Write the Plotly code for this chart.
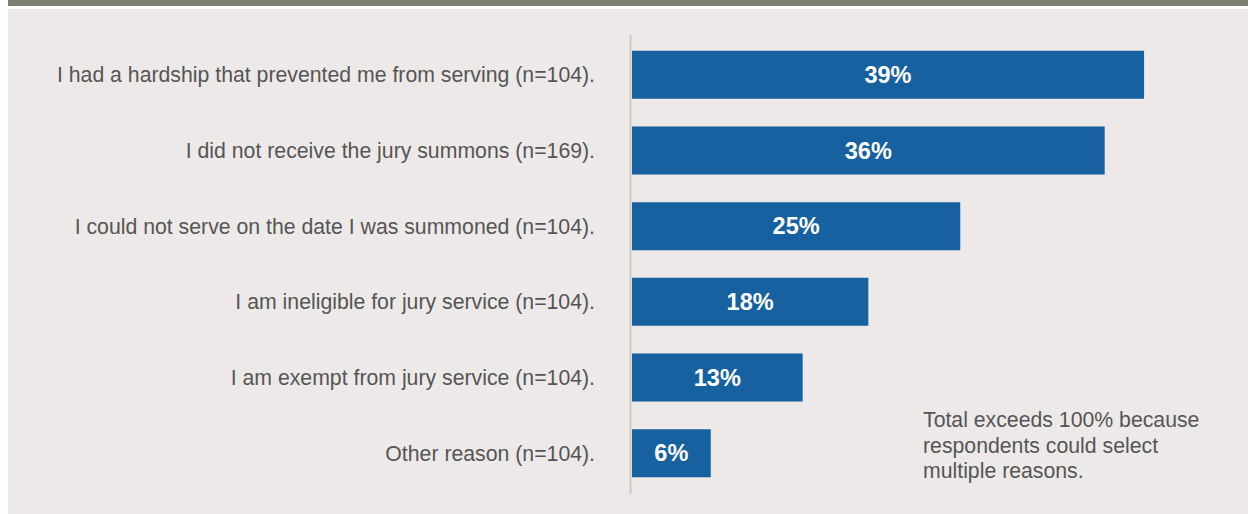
import plotly.graph_objects as go

categories = [
    "I had a hardship that prevented me from serving (n=104).",
    "I did not receive the jury summons (n=169).",
    "I could not serve on the date I was summoned (n=104).",
    "I am ineligible for jury service (n=104).",
    "I am exempt from jury service (n=104).",
    "Other reason (n=104).",
]
values = [39, 36, 25, 18, 13, 6]
value_labels = ["39%", "36%", "25%", "18%", "13%", "6%"]
note_lines = ["Total exceeds 100% because", "respondents could select", "multiple reasons."]

W, H = 1248, 514
L, R, T, B = 632, 0, 37, 23
PW, PH = W - L - R, H - T - B
px_per_unit = 13.13

def px(x):
    return (x - L) / PW

def py(y):
    return (H - B - y) / PH

BG = "#ede9e8"
BAR = "#1761a0"
TXT = "#555555"
FONT = "Liberation Sans, Arial"

fig = go.Figure(go.Bar(
    x=values,
    y=categories,
    orientation="h",
    marker=dict(color=BAR, line=dict(width=0)),
    width=0.635,
    text=value_labels,
    textposition="inside",
    insidetextanchor="middle",
    textangle=0,
    textfont=dict(family=FONT, size=23.5, color="white", weight="bold"),
    hoverinfo="skip",
))

shapes = [
    dict(type="rect", xref="paper", yref="paper", x0=px(0), x1=px(8), y0=py(H), y1=py(0),
         fillcolor="white", line=dict(width=0), layer="below"),
    dict(type="rect", xref="paper", yref="paper", x0=px(0), x1=px(W), y0=py(9), y1=py(0),
         fillcolor="white", line=dict(width=0), layer="below"),
    dict(type="rect", xref="paper", yref="paper", x0=px(8), x1=px(W), y0=py(6), y1=py(0),
         fillcolor="#7e7d71", line=dict(width=0), layer="below"),
    dict(type="line", xref="paper", yref="paper", x0=px(630.5), x1=px(630.5), y0=py(35), y1=py(494),
         line=dict(color="#cdc8c2", width=2), layer="above"),
]

annotations = [
    dict(
        text=line, xref="paper", yref="paper",
        x=px(921), y=py(406 + i * 25.5), xanchor="left", yanchor="top",
        align="left", showarrow=False,
        font=dict(family=FONT, size=21.25, color=TXT),
    )
    for i, line in enumerate(note_lines)
]

fig.update_layout(
    width=W, height=H,
    margin=dict(l=L, r=R, t=T, b=B, pad=0),
    paper_bgcolor=BG,
    plot_bgcolor=BG,
    showlegend=False,
    bargap=0.365,
    font=dict(family=FONT, size=21.25, color=TXT),
    xaxis=dict(range=[0, PW / px_per_unit], visible=False, fixedrange=True),
    yaxis=dict(
        categoryorder="array",
        categoryarray=categories[::-1],
        range=[-0.5, 5.5],
        showline=False,
        showgrid=False,
        zeroline=False,
        ticks="",
        ticklabelstandoff=36,
        tickfont=dict(family=FONT, size=21.25, color=TXT),
        fixedrange=True,
    ),
    shapes=shapes,
    annotations=annotations,
)

fig.write_html(
    "out.html",
    config={"displayModeBar": False},
    post_script="document.body.style.margin='0';document.body.style.overflow='hidden';",
)
